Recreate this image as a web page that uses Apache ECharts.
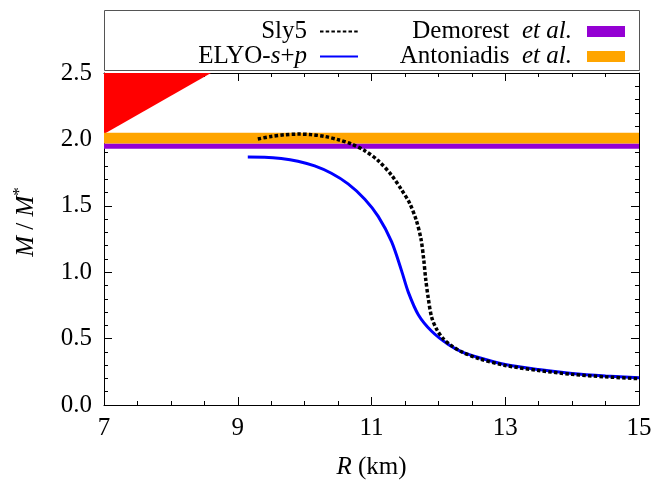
<!DOCTYPE html>
<html>
<head>
<meta charset="utf-8">
<script src="https://cdn.jsdelivr.net/npm/echarts@6/dist/echarts.min.js"></script>
<style>html,body{margin:0;padding:0;background:#fff}#c{width:655px;height:485px}</style>
</head>
<body>
<div id="c"></div>
<script>
// ---- data ----
var xTicks = [7, 9, 11, 13, 15];
var yTicks = [0.0, 0.5, 1.0, 1.5, 2.0, 2.5];
var sly5 = [
  [9.30, 2.003], [9.50, 2.022], [9.70, 2.035], [9.90, 2.040], [10.10, 2.036],
  [10.30, 2.022], [10.50, 1.998], [10.70, 1.965], [10.90, 1.915], [11.10, 1.840],
  [11.30, 1.730], [11.45, 1.620], [11.57, 1.520], [11.67, 1.390], [11.74, 1.250],
  [11.78, 1.100], [11.81, 0.950], [11.85, 0.800], [11.90, 0.660], [11.98, 0.565],
  [12.08, 0.495], [12.20, 0.445], [12.35, 0.400], [12.60, 0.350], [13.00, 0.298],
  [13.50, 0.260], [14.00, 0.231], [14.50, 0.212], [15.00, 0.198]
];
var elyo = [
  [9.15, 1.867], [9.40, 1.866], [9.65, 1.857], [9.90, 1.836], [10.15, 1.800],
  [10.40, 1.745], [10.65, 1.665], [10.90, 1.550], [11.10, 1.420], [11.30, 1.230],
  [11.45, 1.010], [11.55, 0.850], [11.70, 0.680], [11.90, 0.555], [12.15, 0.455],
  [12.35, 0.400], [12.60, 0.358], [13.00, 0.305], [13.50, 0.267], [14.00, 0.238],
  [14.50, 0.219], [15.00, 0.205]
];
var demorestBand = [1.93, 1.97];     // visible part (1.97 +- 0.04, covered above by Antoniadis)
var antoniadisBand = [1.97, 2.05];   // 2.01 +- 0.04
var causalRegion = [[7, 2.04], [7, 2.5], [8.6, 2.5]];

var FONT = 'Liberation Serif';
var FS = 25;
var chart = echarts.init(document.getElementById('c'));

function bandItem(band, color) {
  return function (params, api) {
    var p1 = api.coord([7, band[1]]);
    var p2 = api.coord([15, band[0]]);
    return {type: 'rect', shape: {x: p1[0], y: p1[1], width: p2[0] - p1[0], height: p2[1] - p1[1]},
      style: {fill: color}};
  };
}

var axisCommon = {
  axisLine: {show: true, onZero: false, lineStyle: {color: '#000', width: 1}},
  axisTick: {show: true, inside: true, length: 8, lineStyle: {color: '#000'}},
  splitLine: {show: false}
};
var xMinor = {show: true, splitNumber: 4, length: 4, lineStyle: {color: '#000'}};
var yMinor = {show: true, splitNumber: 5, length: 4, lineStyle: {color: '#000'}};
var RICH = {
  a: {fontFamily: FONT, fontSize: FS, color: '#000'},
  i: {fontStyle: 'italic', fontFamily: FONT, fontSize: FS, color: '#000'}
};
var RICH_LEG = {
  a: {fontFamily: FONT, fontSize: FS, color: '#000', lineHeight: 25},
  i: {fontStyle: 'italic', fontFamily: FONT, fontSize: FS, color: '#000', lineHeight: 25}
};

chart.setOption({
  animation: false,
  backgroundColor: '#fff',
  textStyle: {fontFamily: FONT},
  grid: {left: 104, right: 16, top: 73, bottom: 75},
  graphic: [{
    type: 'rect', left: 104, top: 10, z: -1,
    shape: {width: 535, height: 60},
    style: {fill: '#fff', stroke: '#555', lineWidth: 1}
  }],
  legend: [{
    data: ['Sly5', 'ELYO-s+p'],
    orient: 'vertical', align: 'right', right: 291, top: 14,
    itemWidth: 38, itemHeight: 12, itemGap: 0,
    itemStyle: {color: 'rgba(0,0,0,0)', borderWidth: 0, opacity: 0},
    textStyle: {fontFamily: FONT, fontSize: FS, color: '#000', lineHeight: 25, padding: [0, 8, 0, 0], rich: RICH_LEG},
    formatter: function (n) { return n === 'ELYO-s+p' ? '{a|ELYO-}{i|s}{a|+}{i|p}' : '{a|' + n + '}'; }
  }, {
    data: [{name: 'Demorest et al.', icon: 'rect'}, {name: 'Antoniadis et al.', icon: 'rect'}],
    orient: 'vertical', align: 'right', right: 25, top: 14,
    itemWidth: 38, itemHeight: 11, itemGap: 0,
    textStyle: {fontFamily: FONT, fontSize: FS, color: '#000', lineHeight: 25, padding: [0, 10, 0, 0], rich: RICH_LEG},
    formatter: function (n) { return '{a|' + n.replace(' et al.', '  }{i|et al.}'); }
  }],
  xAxis: [Object.assign({
    type: 'value', min: 7, max: 15, interval: 2,
    name: '{i|R}{a| (km)}', nameLocation: 'middle', nameGap: 50,
    nameTextStyle: {fontFamily: FONT, fontSize: FS, color: '#000', rich: RICH},
    axisLabel: {fontFamily: FONT, fontSize: FS, color: '#000', margin: 11, rich: RICH,
      formatter: function (v) { return '{a|' + v + '}'; }},
    minorTick: xMinor
  }, axisCommon),
  Object.assign({
    type: 'value', min: 7, max: 15, interval: 2, position: 'top',
    axisLabel: {show: false}, minorTick: xMinor
  }, axisCommon)],
  yAxis: [Object.assign({
    type: 'value', min: 0, max: 2.5, interval: 0.5,
    name: '{i|M}{a| / }{i|M}{s|*}', nameLocation: 'middle', nameGap: 62, nameRotate: 90,
    nameTextStyle: {fontFamily: FONT, fontSize: 25, color: '#000', padding: [0, 0, 0, 34],
      rich: {i: {fontStyle: 'italic', fontFamily: FONT, fontSize: 25, color: '#000'},
             a: {fontFamily: FONT, fontSize: 25, color: '#000'},
             s: {fontFamily: FONT, fontSize: 17, color: '#000', padding: [0, 0, 14, 0]}}},
    axisLabel: {fontFamily: FONT, fontSize: FS, color: '#000', margin: 12, rich: RICH,
      formatter: function (v) { return '{a|' + v.toFixed(1) + '}'; }},
    minorTick: yMinor
  }, axisCommon),
  Object.assign({
    type: 'value', min: 0, max: 2.5, interval: 0.5, position: 'right',
    axisLabel: {show: false}, minorTick: yMinor
  }, axisCommon)],
  series: [{
    type: 'custom', name: 'causal', z: 1, silent: true,
    data: [0],
    renderItem: function (params, api) {
      var pts = causalRegion.map(function (p) { return api.coord(p); });
      return {type: 'polygon', shape: {points: pts}, style: {fill: '#ff0000'}};
    }
  }, {
    type: 'custom', name: 'Demorest et al.', z: 2, silent: true,
    itemStyle: {color: '#9400d3'},
    data: [0], renderItem: bandItem(demorestBand, '#9400d3')
  }, {
    type: 'custom', name: 'Antoniadis et al.', z: 3, silent: true,
    itemStyle: {color: '#ffa500'},
    data: [0], renderItem: bandItem(antoniadisBand, '#ffa500')
  }, {
    type: 'line', name: 'ELYO-s+p', data: elyo, z: 4,
    showSymbol: false, symbol: 'none', smooth: 0.3,
    lineStyle: {color: '#0000ff', width: 3}, itemStyle: {color: '#0000ff'}
  }, {
    type: 'line', name: 'Sly5', data: sly5, z: 5,
    showSymbol: false, symbol: 'none', smooth: 0.3,
    lineStyle: {color: '#000', width: 3.5, type: [3.5, 2.2]}, itemStyle: {color: '#000'}
  }]
});
</script>
</body>
</html>
